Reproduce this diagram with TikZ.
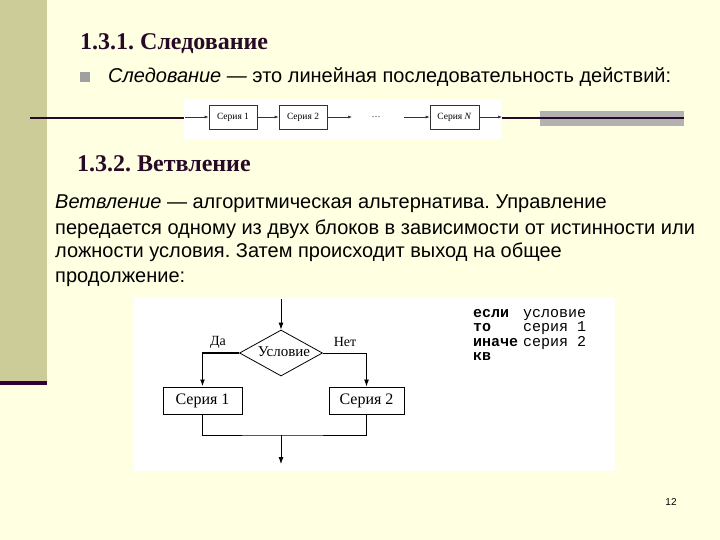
\documentclass[tikz,border=0pt]{standalone}
\usepackage{fontspec}
\setmainfont{Liberation Serif}
\newfontfamily\sansf{Liberation Sans}
\newfontfamily\monof{Liberation Mono}
\usetikzlibrary{shapes.geometric,arrows.meta}
\definecolor{bg}{RGB}{255,255,225}
\definecolor{strip}{RGB}{204,204,153}
\definecolor{darkbar}{RGB}{51,0,51}
\definecolor{titlec}{RGB}{40,10,40}
\definecolor{graybar}{RGB}{178,178,178}
\definecolor{bulletc}{RGB}{160,160,160}
\frenchspacing
\tikzset{
  titletext/.style={anchor=base west, inner sep=0, text=titlec, font=\fontsize{24}{28}\selectfont\bfseries},
  bodytext/.style={anchor=base west, inner sep=0, text=black, font=\sansf\fontsize{20}{24}\selectfont},
  seqbox/.style={draw=black!80, line width=0.6pt, minimum height=24pt, inner sep=0, font=\fontsize{9.5}{11}\selectfont},
  seqarrow/.style={draw=black!80, line width=0.6pt, -{Latex[length=4pt,width=3pt]}},
  flowbox/.style={draw=black, line width=1pt, minimum height=27pt, inner sep=0, font=\fontsize{16}{18}\selectfont},
  flowline/.style={draw=black, line width=0.8pt},
  flowarrow/.style={flowline, -{Latex[length=7pt,width=5pt]}},
  lbl/.style={inner sep=0, font=\fontsize{14}{16}\selectfont},
  kw/.style={anchor=base west, inner sep=0, font=\monof\fontsize{15}{17}\selectfont\bfseries},
  val/.style={anchor=base west, inner sep=0, font=\monof\fontsize{15}{17}\selectfont}
}
\begin{document}
\begin{tikzpicture}[x=1pt,y=-1pt]
\useasboundingbox (0,0) rectangle (720,540);
\fill[bg] (0,0) rectangle (720,540);
\fill[strip] (0,0) rectangle (47,381);
\fill[darkbar] (0,381) rectangle (47,385);

% section 1
\node[titletext] (t1) at (80,50) {1.3.1. Следование};
\node[fill=bulletc, minimum size=10pt, inner sep=0] (b1) at (85,77) {};
\node[bodytext] (d1) at (108,83) {\textit{Следование} — это линейная последовательность действий:};

\fill[graybar] (540,111) rectangle (684,126);
\draw[titlec, line width=2pt] (30,118) -- (684,118);
\fill[white] (184,99) rectangle (502,139);

\node[seqbox, minimum width=48pt] (s1) at (233,117) {Серия 1};
\node[seqbox, minimum width=48pt] (s2) at (303,117) {Серия 2};
\node[inner sep=0, font=\fontsize{9}{10}\selectfont] (dots) at (376,117) {\ldots};
\node[seqbox, minimum width=49pt] (sN) at (454.5,117) {Серия \textit{N}};
\coordinate (sin) at (185,117);
\coordinate (sa) at (352,117);
\coordinate (sb) at (404,117);
\coordinate (sout) at (502,117);
\draw[seqarrow] (sin) -- (s1);
\draw[seqarrow] (s1) -- (s2);
\draw[seqarrow] (s2) -- (sa);
\draw[seqarrow] (sb) -- (sN);
\draw[seqarrow] (sN) -- (sout);

% section 2
\node[titletext] (t2) at (77,172) {1.3.2. Ветвление};
\node[bodytext] (p1) at (55,209) {\textit{Ветвление} — алгоритмическая альтернатива. Управление};
\node[bodytext] (p2) at (55,234) {передается одному из двух блоков в зависимости от истинности или};
\node[bodytext] (p3) at (55,258) {ложности условия. Затем происходит выход на общее};
\node[bodytext] (p4) at (55,282) {продолжение:};

% flowchart
\fill[white] (134,297) rectangle (615,471);
\node[diamond, draw, line width=0.8pt, minimum width=83pt, minimum height=46pt, inner sep=0, aspect=1.8] (cond) at (281,353) {};
\node[inner sep=0, font=\fontsize{15}{17}\selectfont] (condt) at (284,352) {Условие};
\node[flowbox, minimum width=79pt] (box1) at (202.5,400.5) {Серия 1};
\node[flowbox, minimum width=75pt] (box2) at (366.5,400.5) {Серия 2};
\node[lbl] (yes) at (218,342) {Да};
\node[lbl] (no) at (345,342) {Нет};
\coordinate (top) at (281,299);
\coordinate (jn) at (281,435);
\coordinate (out) at (281,464);
\draw[flowarrow] (top) -- (cond.north);
\draw[flowarrow, line width=1.6pt] (cond.west) -| (box1.north);
\draw[flowarrow] (cond.east) -| (box2.north);
\draw[flowline] (box1.south) |- (jn) -| (box2.south);
\draw[flowarrow] (jn) -- (out);

% pseudocode
\node[kw] (k1) at (473,317) {если};
\node[val] (v1) at (523,317) {условие};
\node[kw] (k2) at (473,331) {то};
\node[val] (v2) at (523,331) {серия 1};
\node[kw] (k3) at (473,346) {иначе};
\node[val] (v3) at (523,346) {серия 2};
\node[kw] (k4) at (473,360) {кв};

\node[inner sep=0, font=\sansf\fontsize{10}{12}\selectfont] (pg) at (671,502) {12};
\end{tikzpicture}
\end{document}
